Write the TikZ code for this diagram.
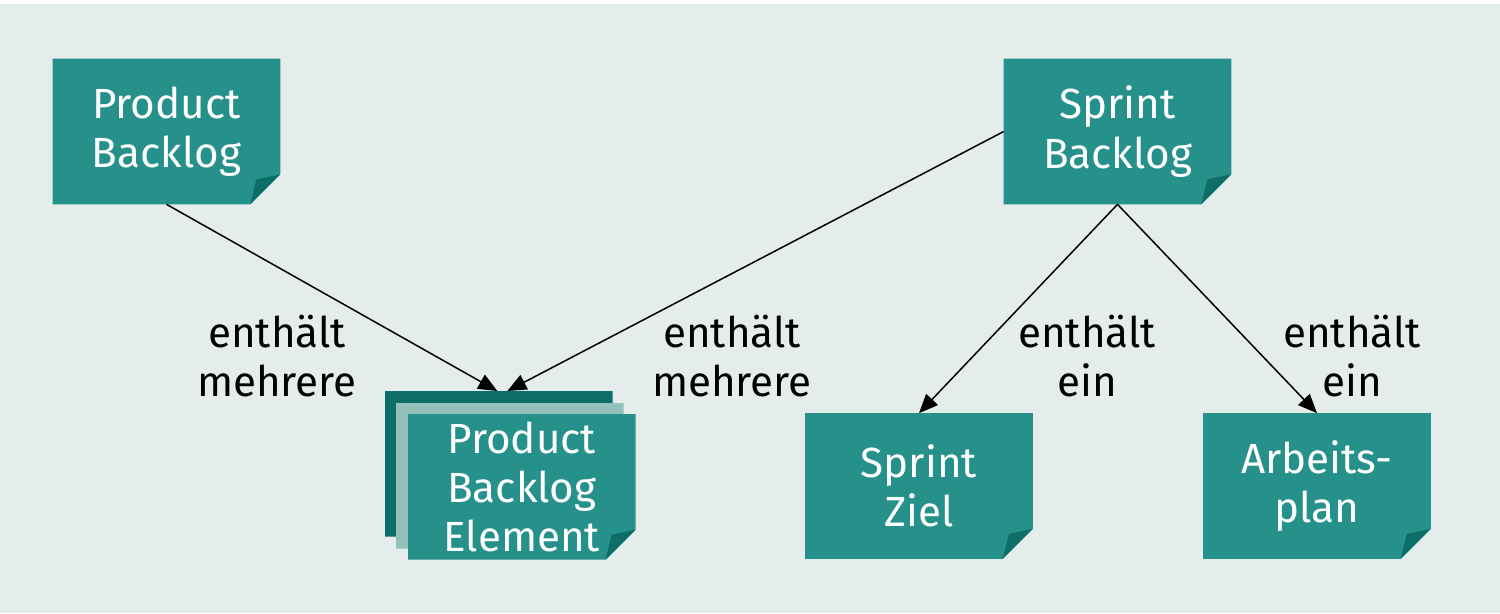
\documentclass[tikz,border=0pt]{standalone}
\usepackage{fontspec}
\setmainfont{Fira Sans}
\usetikzlibrary{calc,backgrounds,arrows.meta}
\definecolor{bgc}{RGB}{228,237,236}
\definecolor{tealmain}{RGB}{37,145,138}
\definecolor{tealdark}{RGB}{12,110,102}
\definecolor{teallight}{RGB}{148,192,186}
\tikzset{
 note/.style={minimum width=4.54cm, minimum height=2.9cm, inner sep=0pt, text=white, align=center, font=\fontsize{24}{28}\selectfont},
 lbl/.style={align=center, font=\fontsize{24}{28}\selectfont, text=black, inner sep=0pt},
 conn/.style={-{Triangle[length=0.38cm,width=0.32cm]}, line width=0.85pt},
}
\newcommand{\cutshape}[2]{%
 \fill[#2] (#1.north west) -- (#1.north east) -- ([yshift=0.6cm]#1.south east) -- ([xshift=-0.6cm]#1.south east) -- (#1.south west) -- cycle;
}
\newcommand{\notefill}[1]{%
 \cutshape{#1}{tealmain}
 \fill[tealdark] ([yshift=0.6cm]#1.south east) -- ([xshift=-0.6cm]#1.south east) -- ([xshift=-0.48cm,yshift=0.5cm]#1.south east) -- cycle;
}
\begin{document}
\begin{tikzpicture}[x=0.02cm,y=-0.02cm]
\useasboundingbox (0,0) rectangle (1500,613);
% nodes
\node[note] (pb) at (166.5,131.5) {Product\\Backlog};
\node[note] (sb) at (1117.5,131.5) {Sprint\\Backlog};
\node[note] (sz) at (919,486) {Sprint\\Ziel};
\node[note] (ap) at (1317,486) {Arbeits-\\plan};
\node[note, anchor=north west] (pbeback) at (385,391) {};
\node[note, anchor=north west] (pbemid) at (396,403) {};
\node[note, anchor=north west] (pbe) at (408,414) {Product\\Backlog\\Element};
% labels
\node[lbl] (l1) at (277,356) {enthält\\mehrere};
\node[lbl] (l2) at (732,356) {enthält\\mehrere};
\node[lbl] (l3) at (1087,356) {enthält\\ein};
\node[lbl] (l4) at (1352,356) {enthält\\ein};
% connectors
\draw[conn] (pb.south) -- ([xshift=-0.03cm]pbeback.north);
\draw[conn] (sb.west) -- ([xshift=0.17cm]pbeback.north);
\draw[conn] (sb.south) -- (sz.north);
\draw[conn] (sb.south) -- (ap.north);
\begin{pgfonlayer}{background}
\fill[white] (0,0) rectangle (1500,613);
\fill[bgc] (0,4) rectangle (1500,613);
\cutshape{pbeback}{tealdark}
\cutshape{pbemid}{teallight}
\notefill{pb}
\notefill{sb}
\notefill{sz}
\notefill{ap}
\notefill{pbe}
\end{pgfonlayer}
\end{tikzpicture}
\end{document}
